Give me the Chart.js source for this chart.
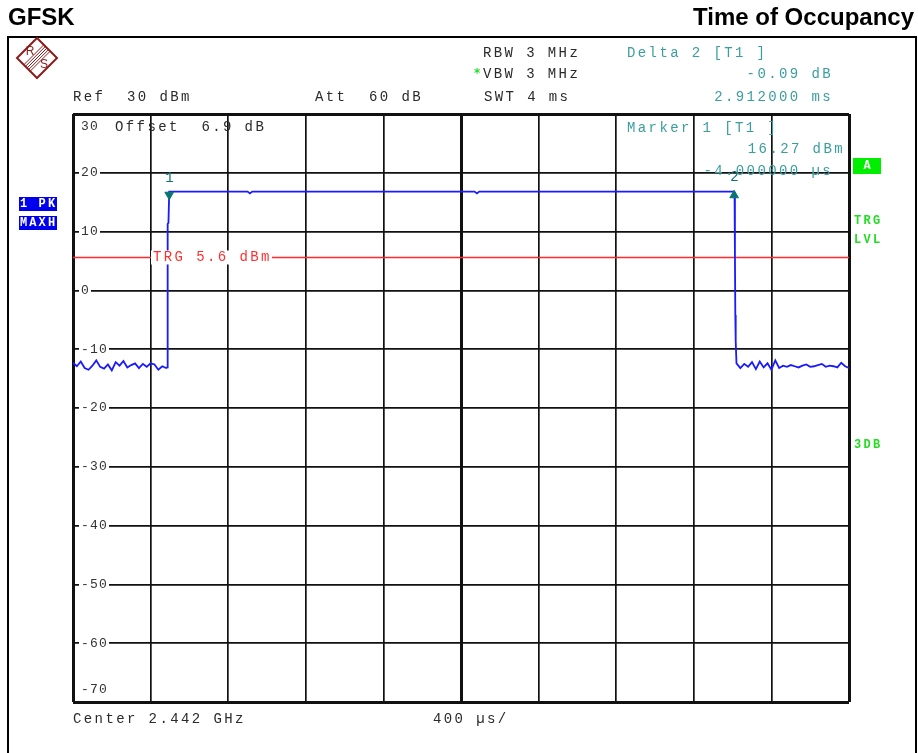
<!DOCTYPE html>
<html>
<head>
<meta charset="utf-8">
<script src="https://cdn.jsdelivr.net/npm/chart.js@4.4.0/dist/chart.umd.min.js"></script>
<style>
  html, body { margin: 0; padding: 0; background: #fff; }
  #wrap { width: 918px; height: 753px; position: relative; }
</style>
</head>
<body>
<div id="wrap"><canvas id="sa"></canvas></div>
<script>
// ---- data ----
// time axis in µs (400 µs/div, -500 .. 3500), level in dBm
const X_MIN = -500, X_MAX = 3500;
const X_GRID = [-500, -100, 300, 700, 1100, 1500, 1900, 2300, 2700, 3100, 3500];
const Y_TICKS = [30, 20, 10, 0, -10, -20, -30, -40, -50, -60, -70];

const traceTime = [
  -500, -480, -460, -440, -420, -400, -380, -360, -340, -320, -300, -280, -260,
  -240, -220, -200, -180, -160, -140, -120, -100, -80, -60, -40, -20,
  -14, -12, -8, -4, 0,
  400, 412, 424, 1570, 1582, 1594, 2904, 2910,
  2912, 2914, 2916,
  2920, 2940, 2960, 2980, 3000, 3020, 3040, 3060, 3080, 3100, 3120, 3140, 3160,
  3180, 3200, 3220, 3240, 3260, 3280, 3300, 3320, 3340, 3360, 3380, 3400, 3420,
  3440, 3460, 3480, 3500
];
const traceLevel = [
  -12.3, -12.9, -12.1, -13.2, -13.5, -12.8, -11.9, -13.0, -13.3, -12.6, -13.6, -12.2, -12.8,
  -12.0, -13.1, -12.7, -12.4, -13.2, -12.5, -13.0, -12.4, -12.6, -13.5, -12.9, -13.2,
  -13.1, 11.3, 11.5, 16.8, 16.8,
  16.8, 16.5, 16.8, 16.8, 16.5, 16.8, 16.8, 16.6,
  6.3, -4.2, -8.6,
  -12.4, -13.2, -12.5, -13.0, -12.2, -13.4, -12.1, -13.1, -12.4, -13.5, -11.9, -13.2, -12.8,
  -13.0, -12.7, -12.9, -13.1, -12.8, -12.6, -13.0, -12.9, -12.7, -12.5, -13.0, -12.8, -12.9,
  -13.1, -12.3, -12.9, -13.2
];

const trgLevel = 5.6;
const marker1 = { t: -4, lvl: 16.27 };
const marker2 = { t: 2908, lvl: 16.18 };

const TEAL = '#3a9e9e';
const MARK = '#0a7474';
const INK = '#2a2a2a';
const GREEN = '#22dd22';

// ---- helpers ----
const ADV = 10.8;
function mono(ctx, text, x, y, color, align, adv) {
  adv = adv || ADV;
  let sx = align === 'right' ? x - text.length * adv : x;
  ctx.fillStyle = color;
  ctx.textAlign = 'left';
  ctx.textBaseline = 'middle';
  for (let i = 0; i < text.length; i++) ctx.fillText(text[i], sx + i * adv, y);
}

function drawLogo(ctx, cx, cy, r) {
  ctx.save();
  ctx.strokeStyle = '#8b1c1c';
  ctx.lineWidth = 2;
  ctx.beginPath();
  ctx.moveTo(cx, cy - r); ctx.lineTo(cx + r, cy); ctx.lineTo(cx, cy + r); ctx.lineTo(cx - r, cy); ctx.closePath();
  ctx.stroke();
  // band of stripes between R and S
  ctx.lineWidth = 1;
  for (let k = -2; k <= 2; k++) {
    const o = k * 1.6;
    ctx.beginPath();
    ctx.moveTo(cx - r / 2 + o, cy + r / 2 + o);
    ctx.lineTo(cx + r / 2 + o, cy - r / 2 + o);
    ctx.stroke();
  }
  ctx.fillStyle = '#8b1c1c';
  ctx.font = '12px "Liberation Sans"';
  ctx.textAlign = 'center'; ctx.textBaseline = 'middle';
  ctx.fillText('R', cx - 7, cy - 6);
  ctx.fillText('S', cx + 7, cy + 7);
  ctx.restore();
}

const screenText = {
  id: 'screenText',
  afterDatasetsDraw(chart) {
    const ctx = chart.ctx;
    const xs = chart.scales.x, ys = chart.scales.y;
    ctx.save();
    ctx.font = '13px "Liberation Mono"';

    // y tick labels sit inside the grid with a white backdrop
    Y_TICKS.forEach(v => {
      let y = ys.getPixelForValue(v);
      if (v === 30) y += 13;
      if (v === -70) y -= 12;
      const s = String(v);
      ctx.fillStyle = '#fff';
      ctx.fillRect(xs.left + 6, y - 7, s.length * 9 + 3, 14);
      mono(ctx, s, xs.left + 8, y, '#333', 'left', 9);
    });

    // trigger level label
    ctx.font = '14px "Liberation Mono"';
    const ty = ys.getPixelForValue(trgLevel);
    ctx.fillStyle = '#fff';
    ctx.fillRect(151, ty - 7, 121, 14);
    mono(ctx, 'TRG 5.6 dBm', 153, ty, '#ff3030');

    // marker numbers
    mono(ctx, '1', xs.getPixelForValue(marker1.t) - 4, 178, MARK);
    mono(ctx, '2', xs.getPixelForValue(marker2.t) - 4, 177, MARK);
    ctx.restore();
  },
  afterDraw(chart) {
    const ctx = chart.ctx;
    ctx.save();
    // page title
    ctx.fillStyle = '#000';
    ctx.font = 'bold 24px "Liberation Sans"';
    ctx.textBaseline = 'alphabetic';
    ctx.textAlign = 'left';
    ctx.fillText('GFSK', 8, 25);
    ctx.textAlign = 'right';
    ctx.fillText('Time of Occupancy', 914, 25);

    // screen frame
    ctx.strokeStyle = '#000';
    ctx.lineWidth = 2;
    ctx.strokeRect(8, 37, 908, 740);

    drawLogo(ctx, 37, 58, 20);

    ctx.font = '14px "Liberation Mono"';
    mono(ctx, 'Ref  30 dBm', 73, 97, INK);
    mono(ctx, 'Att  60 dB', 315, 97, INK);
    mono(ctx, 'RBW 3 MHz', 483, 53, INK);
    mono(ctx, 'VBW 3 MHz', 483, 74, INK);
    mono(ctx, 'SWT 4 ms', 484, 97, INK);
    mono(ctx, 'Offset  6.9 dB', 115, 127, INK);
    mono(ctx, 'Center 2.442 GHz', 73, 719, INK);
    mono(ctx, '400 \u00b5s/', 433, 719, INK);

    mono(ctx, 'Delta 2 [T1 ]', 627, 53, TEAL);
    mono(ctx, '-0.09 dB', 833, 74, TEAL, 'right');
    mono(ctx, '2.912000 ms', 833, 97, TEAL, 'right');
    mono(ctx, 'Marker 1 [T1 ]', 627, 128, TEAL);
    mono(ctx, '16.27 dBm', 845, 149, TEAL, 'right');
    mono(ctx, '-4.000000 \u00b5s', 833, 171, TEAL, 'right');

    // green star before VBW
    ctx.font = 'bold 12px "DejaVu Sans Mono"';
    ctx.fillStyle = GREEN;
    ctx.textAlign = 'center'; ctx.textBaseline = 'middle';
    ctx.fillText('*', 477, 74);

    // side annotations
    ctx.font = 'bold 12px "Liberation Mono"';
    ctx.fillStyle = '#00ee00';
    ctx.fillRect(853, 158, 28, 16);
    ctx.fillStyle = '#fff';
    ctx.fillText('A', 867, 166);
    mono(ctx, 'TRG', 854, 221, GREEN, 'left', 9.5);
    mono(ctx, 'LVL', 854, 240, GREEN, 'left', 9.5);
    mono(ctx, '3DB', 854, 445, GREEN, 'left', 9.5);

    ctx.fillStyle = '#0000ee';
    ctx.fillRect(19, 197, 38, 14);
    ctx.fillRect(19, 216, 38, 14);
    mono(ctx, '1 PK', 20, 204, '#fff', 'left', 9.3);
    mono(ctx, 'MAXH', 20, 223, '#fff', 'left', 9.3);
    ctx.restore();
  }
};

function gridWidth(ctx, centerIdx, lastIdx) {
  if (ctx.index === 0 || ctx.index === lastIdx) return 3;
  if (ctx.index === centerIdx) return 3;
  return 1.7;
}

new Chart(document.getElementById('sa'), {
  type: 'line',
  data: {
    datasets: [
      {
        label: 'Trace 1',
        data: traceTime.map((t, i) => ({ x: t, y: traceLevel[i] })),
        borderColor: '#1a1aff',
        borderWidth: 1.8,
        pointRadius: 0,
        tension: 0,
        order: 2,
      },
      {
        label: 'TRG',
        data: [{ x: X_MIN, y: trgLevel }, { x: X_MAX, y: trgLevel }],
        borderColor: '#ff2a2a',
        borderWidth: 1.6,
        pointRadius: 0,
        order: 3,
      },
      {
        label: 'M1',
        data: [{ x: marker1.t, y: marker1.lvl }],
        showLine: false,
        pointStyle: 'triangle',
        rotation: 180,
        pointRadius: 5,
        backgroundColor: MARK,
        borderColor: MARK,
        order: 1,
      },
      {
        label: 'M2',
        data: [{ x: marker2.t, y: marker2.lvl }],
        showLine: false,
        pointStyle: 'triangle',
        pointRadius: 5,
        backgroundColor: MARK,
        borderColor: MARK,
        order: 1,
      },
    ]
  },
  options: {
    responsive: true,
    maintainAspectRatio: false,
    animation: false,
    events: [],
    layout: { padding: { left: 73, top: 114, right: 69, bottom: 51 } },
    plugins: { legend: { display: false }, tooltip: { enabled: false } },
    scales: {
      x: {
        type: 'linear',
        min: X_MIN, max: X_MAX,
        afterBuildTicks: s => { s.ticks = X_GRID.map(v => ({ value: v })); },
        afterFit: s => { s.height = 0; },
        ticks: { display: false },
        border: { display: false },
        grid: { color: '#111', lineWidth: c => gridWidth(c, 5, 10), drawTicks: false },
      },
      y: {
        min: -70, max: 30,
        ticks: { display: false, stepSize: 10 },
        afterFit: s => { s.width = 0; },
        border: { display: false },
        grid: { color: '#111', lineWidth: c => gridWidth(c, -1, 10), drawTicks: false },
      }
    }
  },
  plugins: [screenText]
});
</script>
</body>
</html>
